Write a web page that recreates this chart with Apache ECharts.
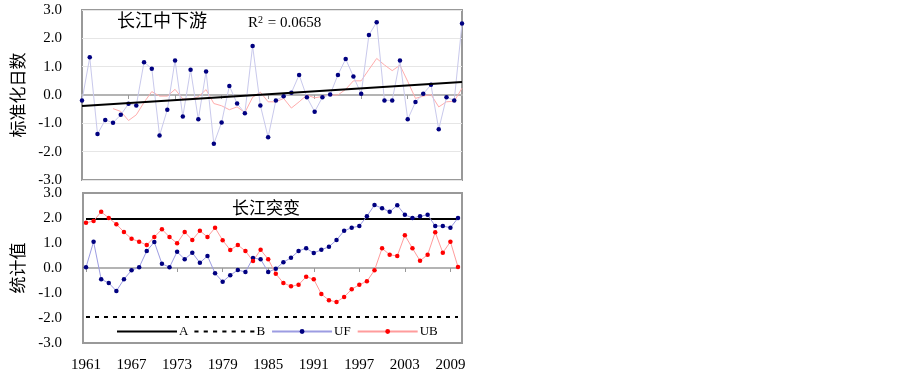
<!DOCTYPE html>
<html>
<head>
<meta charset="utf-8">
<script src="https://cdn.jsdelivr.net/npm/echarts@6/dist/echarts.min.js"></script>
<style>
html, body { margin: 0; padding: 0; background: #fff; }
#main { width: 902px; height: 376px; }
</style>
</head>
<body>
<div id="main"></div>
<script>
// 年份
var years = ['1961','1962','1963','1964','1965','1966','1967','1968','1969','1970',
    '1971','1972','1973','1974','1975','1976','1977','1978','1979','1980',
    '1981','1982','1983','1984','1985','1986','1987','1988','1989','1990',
    '1991','1992','1993','1994','1995','1996','1997','1998','1999','2000',
    '2001','2002','2003','2004','2005','2006','2007','2008','2009','2010'];

// 上图：标准化日数
var indexValues = [-0.19, 1.33, -1.38, -0.88, -0.98, -0.70, -0.31, -0.37, 1.16, 0.93,
    -1.43, -0.52, 1.22, -0.76, 0.89, -0.86, 0.83, -1.72, -0.97, 0.32,
    -0.30, -0.64, 1.73, -0.37, -1.49, -0.19, -0.04, 0.08, 0.71, -0.08,
    -0.59, -0.08, 0.02, 0.71, 1.27, 0.65, 0.04, 2.12, 2.57, -0.19,
    -0.19, 1.22, -0.86, -0.25, 0.04, 0.36, -1.21, -0.08, -0.19, 2.52];
// 滑动平均
var smoothValues = [null, null, null, null, -0.48, -0.58, -0.90, -0.70, -0.26, 0.12,
    -0.04, -0.04, 0.20, -0.14, -0.15, -0.06, 0.19, -0.30, -0.38, -0.52,
    -0.42, -0.62, -0.08, 0.10, -0.24, -0.24, -0.12, -0.46, -0.24, 0.00,
    -0.10, -0.05, 0.00, 0.00, 0.20, 0.50, 0.50, 0.90, 1.29, 1.06,
    0.86, 1.05, 0.48, -0.12, -0.04, 0.02, -0.42, -0.24, -0.22, 0.24];
// 线性趋势两端
var trendYears = ['1961', '2010'];
var trendValues = [-0.39, 0.46];

// 下图：突变检验
var ufValues = [0.03, 1.05, -0.45, -0.60, -0.92, -0.45, -0.09, 0.03, 0.68, 1.04,
    0.17, 0.03, 0.65, 0.35, 0.61, 0.21, 0.48, -0.21, -0.55, -0.29,
    -0.08, -0.16, 0.40, 0.35, -0.16, -0.03, 0.23, 0.41, 0.68, 0.79,
    0.60, 0.73, 0.85, 1.12, 1.49, 1.61, 1.68, 2.07, 2.52, 2.39,
    2.25, 2.51, 2.13, 2.00, 2.07, 2.13, 1.68, 1.68, 1.61, 2.00];
var ubValues = [1.81, 1.88, 2.25, 2.00, 1.75, 1.44, 1.17, 1.05, 0.92, 1.24,
    1.55, 1.24, 0.99, 1.44, 1.12, 1.49, 1.24, 1.61, 1.11, 0.72,
    0.92, 0.68, 0.28, 0.73, 0.35, -0.23, -0.60, -0.73, -0.67, -0.35,
    -0.45, -1.04, -1.29, -1.36, -1.16, -0.85, -0.67, -0.53, -0.09, 0.79,
    0.53, 0.48, 1.31, 0.79, 0.29, 0.53, 1.43, 0.61, 1.05, 0.04];
var levelA = 1.96;   // 显著性水平线
var levelB = -1.96;

var serif = 'Liberation Serif';
var cjk = 'Noto Sans CJK SC';

var lineA = years.map(function () { return levelA; });
var lineB = years.map(function () { return levelB; });
var trendData = trendYears.map(function (y, i) { return [y, trendValues[i]]; });

// 图例图标：实线 / 虚线
var solidIcon = 'path://M0,0H58V2H0Z';
var dashIcon = 'path://M0,0H4V2H0Z M9,0H13V2H9Z M18,0H22V2H18Z M27,0H31V2H27Z M36,0H40V2H36Z M45,0H49V2H45Z M54,0H58V2H54Z';

function zeroAxis(gridIndex) {
    return {
        type: 'category', gridIndex: gridIndex, data: years, boundaryGap: false,
        axisLine: { show: true, onZero: true, lineStyle: { color: '#b4b4b4', width: 2 } },
        axisTick: { show: true, interval: 5, length: 4, lineStyle: { color: '#999' } },
        axisLabel: { show: false },
        splitLine: { show: false }
    };
}

function valueAxis(gridIndex, name, gap, margin, grid) {
    return {
        type: 'value', gridIndex: gridIndex, min: -3, max: 3, interval: 1,
        name: name, nameLocation: 'middle', nameGap: gap,
        nameTextStyle: { fontFamily: cjk, fontSize: 17, color: '#000' },
        axisLine: { show: false },
        axisTick: { show: false },
        axisLabel: {
            margin: margin, fontFamily: serif, fontSize: 15, color: '#000',
            formatter: function (v) { return v.toFixed(1); }
        },
        splitLine: { show: grid, lineStyle: { color: '#e6e6e6', width: 1 } }
    };
}

var myChart = echarts.init(document.getElementById('main'));
var option = {
    backgroundColor: '#fff',
    animation: false,
    grid: [
        { left: 82, top: 10, width: 380, height: 170, show: true, borderColor: '#999', borderWidth: 2 },
        { left: 86, top: 193, width: 372, height: 150 },
        { left: 83, top: 193, width: 379, height: 150, show: true, borderColor: '#999', borderWidth: 2 }
    ],
    xAxis: [
        zeroAxis(0),
        zeroAxis(1),
        {
            type: 'category', gridIndex: 1, data: years, boundaryGap: false, position: 'bottom',
            axisLine: { show: false, onZero: false },
            axisTick: { show: false },
            axisLabel: { interval: 5, margin: 15, fontFamily: serif, fontSize: 15, color: '#000' },
            splitLine: { show: false }
        },
        { type: 'value', gridIndex: 2, show: false }
    ],
    yAxis: [
        valueAxis(0, '标准化日数', 56, 20, true),
        valueAxis(1, '统计值', 60, 24, false),
        { type: 'value', gridIndex: 2, show: false }
    ],
    legend: {
        data: [
            { name: 'A', icon: solidIcon },
            { name: 'B', icon: dashIcon },
            { name: 'UF' },
            { name: 'UB' }
        ],
        left: 117, top: 325,
        itemWidth: 60, itemHeight: 6, itemGap: 6,
        padding: 0,
        textStyle: { fontFamily: serif, fontSize: 13, color: '#000', padding: [0, 0, 0, -3] }
    },
    graphic: [
        { type: 'text', left: 117, top: 11, style: { text: '长江中下游', fontFamily: cjk, fontSize: 18, fill: '#000' } },
        { type: 'text', left: 248, top: 15, style: {
            text: 'R{sup|2} = 0.0658', fontFamily: serif, fontSize: 15, fill: '#000',
            rich: { sup: { fontSize: 10, verticalAlign: 'top', padding: [0, 1, 6, 0], fontFamily: serif } }
        } },
        { type: 'text', left: 232, top: 199, style: { text: '长江突变', fontFamily: cjk, fontSize: 17, fill: '#000' } }
    ],
    series: [
        {
            name: '标准化日数', type: 'line', xAxisIndex: 0, yAxisIndex: 0, data: indexValues,
            symbol: 'circle', symbolSize: 4.5,
            itemStyle: { color: '#000080' },
            lineStyle: { color: '#c9c9ec', width: 1 }, z: 3
        },
        {
            name: '滑动平均', type: 'line', xAxisIndex: 0, yAxisIndex: 0, data: smoothValues,
            showSymbol: false, symbol: 'none',
            lineStyle: { color: '#ffacac', width: 1 }, z: 2
        },
        {
            name: '趋势', type: 'line', xAxisIndex: 0, yAxisIndex: 0, data: trendData,
            symbol: 'none', lineStyle: { color: '#000', width: 2 }, z: 4
        },
        {
            name: 'A', type: 'line', xAxisIndex: 1, yAxisIndex: 1, data: lineA,
            symbol: 'none', itemStyle: { color: '#000' },
            lineStyle: { color: '#000', width: 2 }, z: 2
        },
        {
            name: 'B', type: 'line', xAxisIndex: 1, yAxisIndex: 1, data: lineB,
            symbol: 'none', itemStyle: { color: '#000' },
            lineStyle: { color: '#000', width: 2, type: [4, 5] }, z: 2
        },
        {
            name: 'UF', type: 'line', xAxisIndex: 1, yAxisIndex: 1, data: ufValues,
            symbol: 'circle', symbolSize: 4.5,
            itemStyle: { color: '#000080' },
            lineStyle: { color: '#9c9ce2', width: 1 }, z: 3
        },
        {
            name: 'UB', type: 'line', xAxisIndex: 1, yAxisIndex: 1, data: ubValues,
            symbol: 'circle', symbolSize: 4.5,
            itemStyle: { color: '#ff0000' },
            lineStyle: { color: '#ff9c9c', width: 1 }, z: 3
        }
    ]
};
myChart.setOption(option);
</script>
</body>
</html>
